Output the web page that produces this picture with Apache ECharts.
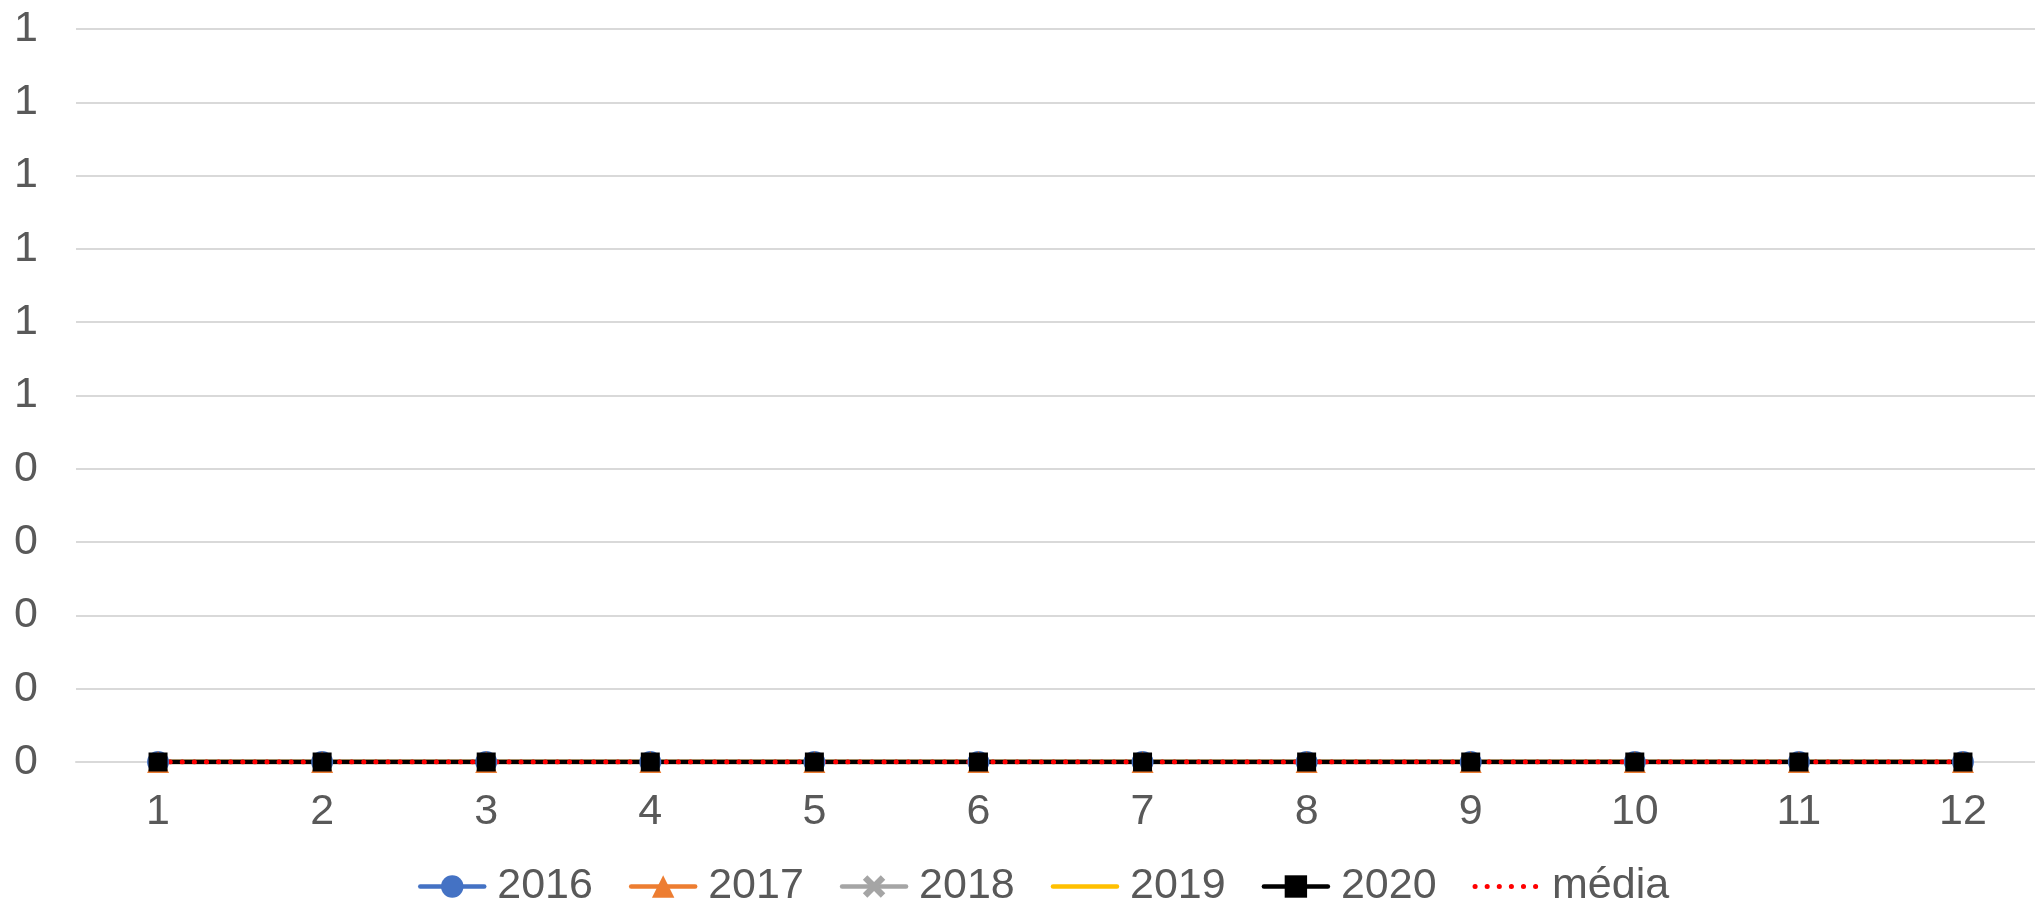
<!DOCTYPE html>
<html>
<head>
<meta charset="utf-8">
<script src="https://cdn.jsdelivr.net/npm/echarts@6/dist/echarts.min.js"></script>
<style>
    html, body { margin: 0; padding: 0; background: #fff; overflow: hidden; }
    /* the plot runs a little past the right edge in the original, so the canvas is wider than the window */
    #chart { width: 2046px; height: 905px; }
</style>
</head>
<body>
<div id="chart"></div>
<script>
// categories (months) and the yearly series, all read as zero
const months = ['1', '2', '3', '4', '5', '6', '7', '8', '9', '10', '11', '12'];
const s2016 = [0, 0, 0, 0, 0, 0, 0, 0, 0, 0, 0, 0];
const s2017 = [0, 0, 0, 0, 0, 0, 0, 0, 0, 0, 0, 0];
const s2018 = [0, 0, 0, 0, 0, 0, 0, 0, 0, 0, 0, 0];
const s2019 = [0, 0, 0, 0, 0, 0, 0, 0, 0, 0, 0, 0];
const s2020 = [0, 0, 0, 0, 0, 0, 0, 0, 0, 0, 0, 0];
const media = [0, 0, 0, 0, 0, 0, 0, 0, 0, 0, 0, 0];
const yMin = 0, yMax = 1, yStep = 0.1;

const textColor = '#595959',
    gridColor = '#d9d9d9',
    font = "'Liberation Sans', Arial, sans-serif";

const crossPath = 'path://M2,0 L5,3 L8,0 L10,2 L7,5 L10,8 L8,10 L5,7 L2,10 L0,8 L3,5 L0,2 Z';
const clear = 'rgba(0,0,0,0)';

function lineSeries(name, data, color, symbol, size, extra) {
    return Object.assign({
        name: name,
        type: 'line',
        data: data,
        symbol: symbol,
        symbolSize: size,
        showSymbol: size > 0,
        itemStyle: { color: color },
        lineStyle: { color: color, width: 4.5, cap: 'round' },
        emphasis: { disabled: true },
        animation: false
    }, extra || {});
}

const chart = echarts.init(document.getElementById('chart'));
const options = {
    backgroundColor: '#fff',
    textStyle: { fontFamily: font },
    grid: { left: 76, top: 29, width: 1969, height: 733 },
    legend: {
        left: 413,
        top: 860,
        width: 1500,
        itemWidth: 64,
        itemHeight: 28,
        itemGap: 36,
        lineStyle: { width: 4.5 },
        textStyle: { color: textColor, fontSize: 43, fontFamily: font, padding: [0, 0, 0, 8] },
        data: ['2016', '2017', '2018',
            { name: '2019', itemStyle: { color: clear, borderWidth: 0 } },
            '2020',
            { name: 'média', itemStyle: { color: clear, borderWidth: 0 }, lineStyle: { width: 5 } }]
    },
    xAxis: {
        type: 'category',
        data: months,
        boundaryGap: true,
        axisLine: { show: true, lineStyle: { color: gridColor, width: 2 } },
        axisTick: { show: false },
        axisLabel: { color: textColor, fontSize: 43, margin: 29 }
    },
    yAxis: {
        type: 'value',
        min: yMin,
        max: yMax,
        interval: yStep,
        axisLine: { show: false },
        axisTick: { show: false },
        splitLine: { lineStyle: { color: gridColor, width: 2 } },
        axisLabel: {
            color: textColor,
            fontSize: 43,
            margin: 38,
            formatter: v => String(Math.round(v))
        }
    },
    series: [
        lineSeries('2016', s2016, '#4472c4', 'circle', 22),
        lineSeries('2017', s2017, '#ed7d31', 'triangle', 22),
        lineSeries('2018', s2018, '#a5a5a5', crossPath, 18),
        lineSeries('2019', s2019, '#ffc000', 'circle', 0),
        lineSeries('2020', s2020, '#000000', 'rect', 19),
        lineSeries('média', media, '#ff0000', 'circle', 0, {
            lineStyle: { color: '#ff0000', width: 5, type: [0.1, 12], cap: 'round' }
        })
    ]
};
chart.setOption(options);
</script>
</body>
</html>
